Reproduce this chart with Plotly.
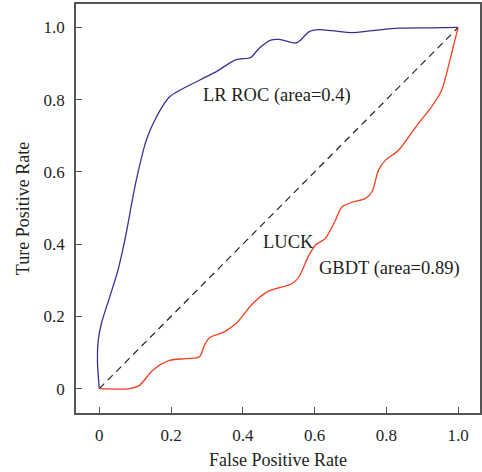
import plotly.graph_objects as go

lr_fpr = [0, -0.005, -0.003, 0.006, 0.029, 0.052, 0.071, 0.103, 0.131, 0.159, 0.196, 0.279,
          0.325, 0.381, 0.422, 0.445, 0.478, 0.501, 0.547, 0.561, 0.584, 0.612, 0.649, 0.704,
          0.760, 0.834, 0.926, 1.0]
lr_tpr = [0, 0.069, 0.134, 0.181, 0.254, 0.328, 0.411, 0.577, 0.688, 0.752, 0.808, 0.854,
          0.877, 0.911, 0.917, 0.942, 0.965, 0.967, 0.957, 0.965, 0.988, 0.994, 0.991, 0.986,
          0.991, 0.998, 0.999, 1.0]

gb_fpr = [0, 0.085, 0.112, 0.149, 0.196, 0.242, 0.279, 0.293, 0.307, 0.348, 0.381, 0.427,
          0.468, 0.538, 0.556, 0.584, 0.602, 0.630, 0.658, 0.676, 0.704, 0.741, 0.760, 0.778,
          0.797, 0.834, 0.889, 0.926, 0.954, 0.977, 0.991, 1.0]
gb_tpr = [0, 0, 0.009, 0.051, 0.078, 0.083, 0.088, 0.120, 0.141, 0.157, 0.180, 0.235,
          0.268, 0.291, 0.309, 0.369, 0.397, 0.416, 0.466, 0.503, 0.516, 0.526, 0.545, 0.605,
          0.632, 0.660, 0.734, 0.780, 0.826, 0.909, 0.965, 1.0]

luck_x = [0, 1]
luck_y = [0, 1]

tick_vals = [0, 0.2, 0.4, 0.6, 0.8, 1.0]
tick_text = ["0", "0.2", "0.4", "0.6", "0.8", "1.0"]

labels = ["LR ROC (area=0.4)", "LUCK", "GBDT (area=0.89)"]
label_x = [0.284, 0.451, 0.608]
label_y = [0.812, 0.405, 0.333]

FONT = "Liberation Serif"

fig = go.Figure()
fig.add_trace(go.Scatter(x=luck_x, y=luck_y, mode="lines",
                         line=dict(color="#222222", width=1.2, dash="7px,5px")))
fig.add_trace(go.Scatter(x=lr_fpr, y=lr_tpr, mode="lines",
                         line=dict(color="#3b2f98", width=1.3, shape="spline", smoothing=0.8)))
fig.add_trace(go.Scatter(x=gb_fpr, y=gb_tpr, mode="lines",
                         line=dict(color="#f0401e", width=1.3, shape="spline", smoothing=0.8)))

for t, x, y in zip(labels, label_x, label_y):
    fig.add_annotation(x=x, y=y, text=t, showarrow=False, xanchor="left", yanchor="middle",
                       font=dict(family=FONT, size=18.5, color="#231f20"))

axis_common = dict(
    showgrid=False, zeroline=False, showline=True, linecolor="#555555", linewidth=1.5,
    mirror=True, ticks="inside", ticklen=6, tickwidth=1.2, tickcolor="#555555",
    tickvals=tick_vals, ticktext=tick_text,
    tickfont=dict(family=FONT, size=17, color="#231f20"),
    ticklabelstandoff=6,
)

fig.update_layout(
    width=482, height=472,
    margin=dict(l=76, r=0, t=4, b=59),
    paper_bgcolor="white", plot_bgcolor="white",
    showlegend=False,
    xaxis=dict(range=[-0.065, 1.061], title=dict(text="False Positive Rate", standoff=9,
               font=dict(family=FONT, size=18, color="#231f20")), **axis_common),
    yaxis=dict(range=[-0.0676, 1.065], title=dict(text="Ture Positive Rate", standoff=9,
               font=dict(family=FONT, size=18, color="#231f20")), **axis_common),
)

fig.write_html("out.html")
